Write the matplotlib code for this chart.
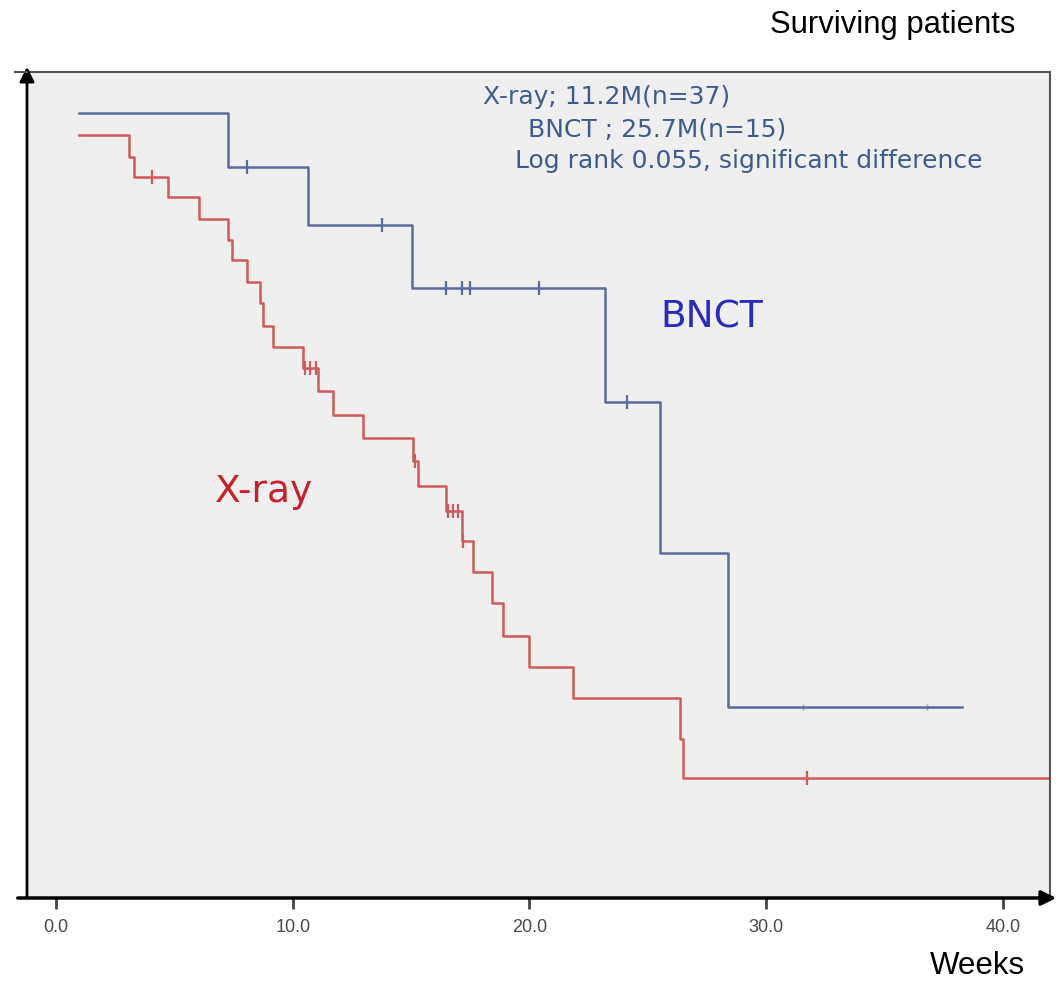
import matplotlib
matplotlib.use("Agg")
import matplotlib.pyplot as plt
from matplotlib.patches import FancyArrowPatch
from matplotlib.lines import Line2D

# X-ray group: week of each step and survival level after it
xray_t = [0.97, 3.08, 3.30, 4.73, 6.04, 7.27, 7.44, 8.07, 8.62, 8.75,
          9.17, 10.44, 11.07, 11.70, 12.97, 15.08, 15.29, 16.48, 17.15, 17.62,
          18.42, 18.88, 19.98, 21.84, 26.36, 26.49, 42.0]
xray_s = [0.972, 0.944, 0.918, 0.893, 0.865, 0.838, 0.813, 0.785, 0.758, 0.729,
          0.702, 0.675, 0.646, 0.615, 0.586, 0.557, 0.525, 0.493, 0.455, 0.415,
          0.376, 0.334, 0.294, 0.255, 0.203, 0.153, 0.153]
xray_cens = [4.06, 10.5, 10.75, 11.0, 15.17, 16.56, 16.77, 16.98, 17.2, 31.73]

# BNCT group
bnct_t = [0.97, 7.27, 10.65, 15.04, 23.19, 25.52, 28.39, 38.28]
bnct_s = [1.0, 0.931, 0.857, 0.777, 0.632, 0.439, 0.243, 0.243]
bnct_cens = [8.07, 13.77, 16.48, 17.15, 17.49, 20.41, 24.12]
bnct_cens_faint = [31.56, 36.8]

xticks = [0, 10, 20, 30, 40]
xtick_labels = ["0.0", "10.0", "20.0", "30.0", "40.0"]

notes = ["X-ray; 11.2M(n=37)", "BNCT ; 25.7M(n=15)",
         "Log rank 0.055, significant difference"]

BLUE = "#5b6b9a"
RED = "#d0595c"

W, H = 1059, 982


def fx(px):
    return px / W


def fy(py):
    return 1 - py / H


def level_at(times, levels, t):
    # survival level of the step curve at time t
    lv = levels[0]
    for ti, li in zip(times, levels):
        if ti <= t:
            lv = li
    return lv


fig = plt.figure(figsize=(W / 100, H / 100), dpi=100)
ax = fig.add_axes([fx(27), fy(898), fx(1050) - fx(27), fy(72) - fy(898)])
ax.set_facecolor("#efefef")

ax.step(bnct_t, bnct_s, where="post", color=BLUE, lw=1.8)
ax.step(xray_t, xray_s, where="post", color=RED, lw=1.8)

ax.plot(bnct_cens, [level_at(bnct_t, bnct_s, c) for c in bnct_cens],
        ls="none", marker="|", ms=10, mew=1.6, color=BLUE)
ax.plot(bnct_cens_faint, [level_at(bnct_t, bnct_s, c) for c in bnct_cens_faint],
        ls="none", marker="|", ms=5, mew=1.0, color=BLUE, alpha=0.6)
ax.plot(xray_cens, [level_at(xray_t, xray_s, c) for c in xray_cens],
        ls="none", marker="|", ms=10, mew=1.6, color=RED)

ax.set_xlim(-1.225, 41.99)
ax.set_ylim(0, 1.052)
ax.set_xticks(xticks)
ax.set_xticklabels(xtick_labels, fontfamily="Liberation Sans", fontsize=13,
                   color="#4a4a4a")
ax.set_yticks([])
ax.tick_params(axis="x", length=8, width=2, color="#444444", pad=7)

for s in ["left", "bottom"]:
    ax.spines[s].set_visible(False)
for s in ["top", "right"]:
    ax.spines[s].set_color("#555555")
    ax.spines[s].set_linewidth(1.5)

# axis arrows
fig.add_artist(FancyArrowPatch((fx(27), fy(900)), (fx(27), fy(64)),
                               transform=fig.transFigure, arrowstyle="-|>",
                               mutation_scale=22, lw=2, color="black"))
fig.add_artist(FancyArrowPatch((fx(15), fy(898)), (fx(1059), fy(898)),
                               transform=fig.transFigure, arrowstyle="-|>",
                               mutation_scale=22, lw=2.5, color="black"))
fig.add_artist(Line2D([fx(15), fx(27)], [fy(72), fy(72)],
                      transform=fig.transFigure, color="#555555", lw=1.5))

# labels
fig.text(fx(893), fy(25), "Surviving patients", fontfamily="Liberation Sans",
         fontsize=22.3, ha="center", va="center", color="black")
fig.text(fx(977), fy(966), "Weeks", fontfamily="Liberation Sans",
         fontsize=22.5, ha="center", va="center", color="black")

note_x = [483, 528, 515]
note_y = [97, 129, 161]
for t, x0, y0 in zip(notes, note_x, note_y):
    fig.text(fx(x0), fy(y0), t, fontfamily="DejaVu Sans", fontsize=18,
             ha="left", va="center", color="#3f5b8c")

fig.text(fx(660), fy(318), "BNCT", fontfamily="DejaVu Sans", fontsize=27,
         ha="left", va="center", color="#2a2ac0")
fig.text(fx(215), fy(492), "X-ray", fontfamily="DejaVu Sans", fontsize=27,
         ha="left", va="center", color="#c8202a")

fig.savefig("out.png", dpi=100)
